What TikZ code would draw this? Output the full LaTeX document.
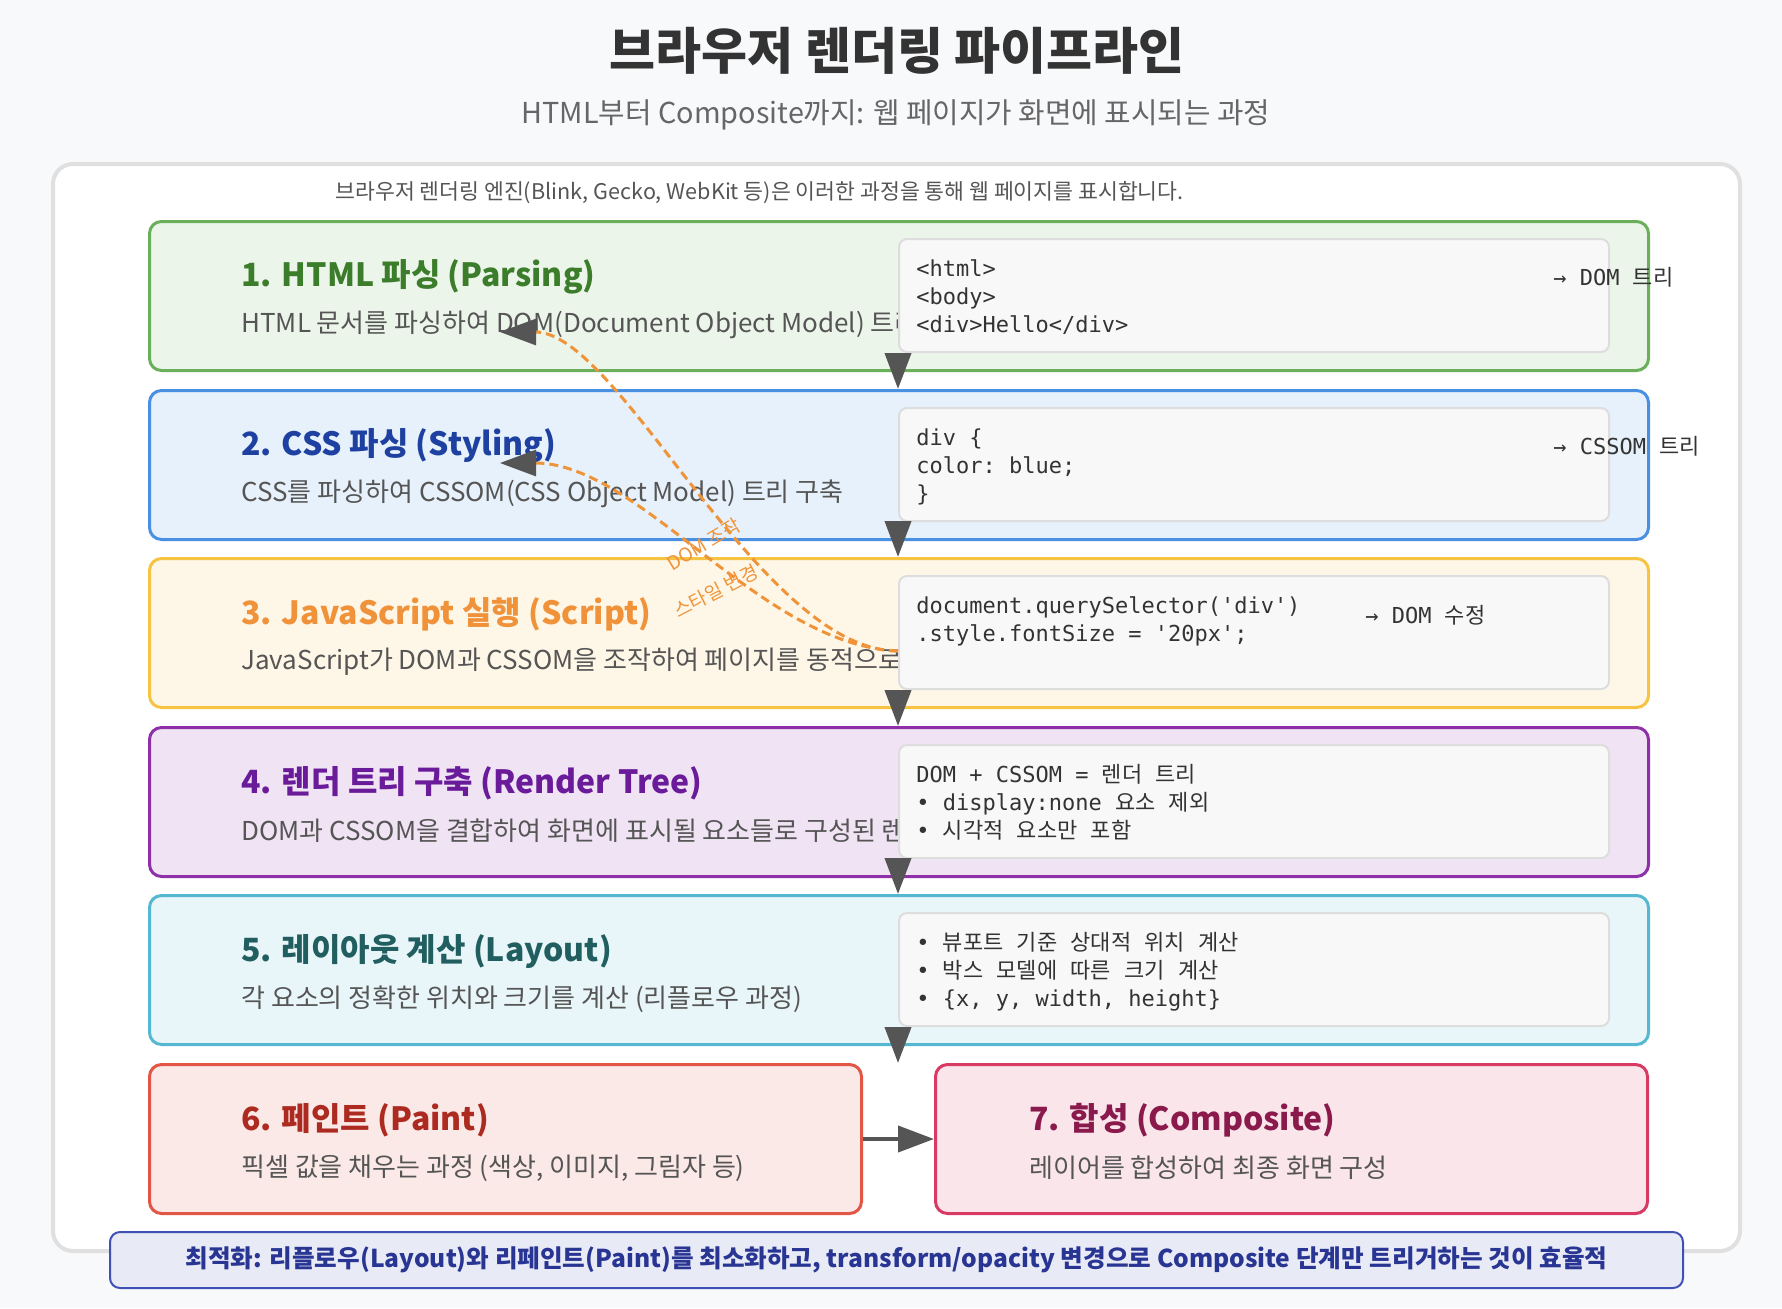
\documentclass[tikz,border=0pt]{standalone}
\usepackage{fontspec}
\setmainfont{Noto Sans CJK KR}
\setmonofont{DejaVu Sans Mono}
\newfontfamily\kocode{Noto Sans CJK KR}[WordSpace=2.7]
\usepackage{tikz}
\usetikzlibrary{arrows.meta, positioning, calc}
\usepackage{xcolor}
\definecolor{pagebg}{HTML}{F8F9FA}
\definecolor{panelline}{HTML}{E0E0E0}
\definecolor{textdark}{HTML}{333333}
\definecolor{textmid}{HTML}{555555}
\definecolor{textsub}{HTML}{666666}
\definecolor{htmlgreen}{HTML}{6AAF5A}
\definecolor{htmltitle}{HTML}{3B7D2A}
\definecolor{cssblue}{HTML}{4A90E2}
\definecolor{csstitle}{HTML}{1E40A0}
\definecolor{jsyellow}{HTML}{F6C343}
\definecolor{jstitle}{HTML}{F0923A}
\definecolor{treepurple}{HTML}{8E30A8}
\definecolor{treetitle}{HTML}{6A1B9A}
\definecolor{layoutcyan}{HTML}{56B8D0}
\definecolor{layouttitle}{HTML}{215E60}
\definecolor{paintred}{HTML}{E35545}
\definecolor{painttitle}{HTML}{AD2A20}
\definecolor{compopink}{HTML}{D83A64}
\definecolor{compotitle}{HTML}{8A1A4C}
\definecolor{codefill}{HTML}{F8F8F8}
\definecolor{codeline}{HTML}{DDDDDD}
\definecolor{arrowgray}{HTML}{555555}
\definecolor{dashorange}{HTML}{F0943A}
\definecolor{tipblue}{HTML}{3F51B5}
\definecolor{tipfill}{HTML}{E8EAF6}
\definecolor{tiptext}{HTML}{283593}
\newcommand{\ko}[1]{{\kocode #1}}
\tikzset{
    % Page frame
    panelbox/.style={rectangle, rounded corners=10pt, draw=panelline, line width=2pt, fill=white,
                minimum width=843.5pt, minimum height=543.5pt, inner sep=0pt},
    % Stage boxes
    stagebox/.style={rectangle, rounded corners=6pt, draw=#1, fill=#1!13, line width=1.5pt,
                minimum width=749.5pt, minimum height=74.5pt, anchor=north west, inner sep=0pt},
    halfbox/.style={stagebox=#1, minimum width=356pt},
    stagetitle/.style={anchor=west, inner sep=0pt, text=#1,
                font=\fontsize{16}{20}\selectfont\bfseries},
    stagedesc/.style={anchor=west, inner sep=0pt, text=textmid, font=\fontsize{13}{16}\selectfont},
    % Code snippets
    codebox/.style={rectangle, rounded corners=4pt, draw=codeline, fill=codefill, line width=1pt,
                minimum width=355pt, minimum height=56.5pt, anchor=north west, inner sep=0pt},
    codetext/.style={anchor=north west, inner sep=0pt, align=left, text=textdark,
                font=\ttfamily\fontsize{11}{14}\selectfont},
    codenote/.style={anchor=west, inner sep=0pt, text=textdark, font=\ttfamily\fontsize{11}{14}\selectfont},
    % Connectors
    flowarrow/.style={-{Triangle[length=18pt, width=13pt]}, line width=2pt, arrowgray},
    jsarrow/.style={-{Triangle[length=18pt, width=13pt, color=arrowgray]}, line width=1.5pt,
                dashorange, dash pattern=on 4.5pt off 2.5pt},
    jslabel/.style={inner sep=0pt, text=dashorange, font=\fontsize{9.5}{11}\selectfont},
    % Footer
    tipbox/.style={rectangle, rounded corners=5pt, draw=tipblue, fill=tipfill, line width=1pt,
                minimum width=786.5pt, minimum height=28pt, text=tiptext,
                font=\fontsize{12.3}{14}\selectfont\bfseries},
}
\begin{document}
\begin{tikzpicture}[x=0.5pt, y=-0.5pt]
\fill[pagebg] (0,0) rectangle (1782,1308);
\useasboundingbox (0,0) rectangle (1782,1308);

\node[font=\fontsize{25}{30}\selectfont\bfseries, text=textdark] (title) at (897,51) {브라우저 렌더링 파이프라인};
\node[font=\fontsize{14.4}{17}\selectfont, text=textsub] (subtitle) at (896,115) {HTML부터 Composite까지: 웹 페이지가 화면에 표시되는 과정};

\node[panelbox] (panel) at (896.5,707.5) {};
\node[anchor=west, inner sep=0pt, font=\fontsize{10.8}{12}\selectfont, text=textmid] (intro) at (335,193)
    {브라우저 렌더링 엔진(Blink, Gecko, WebKit 등)은 이러한 과정을 통해 웹 페이지를 표시합니다.};

% stages
\node[stagebox=htmlgreen]  (box1) at (148,220)  {};
\node[stagebox=cssblue]    (box2) at (148,389)  {};
\node[stagebox=jsyellow]   (box3) at (148,557)  {};
\node[stagebox=treepurple] (box4) at (148,726)  {};
\node[stagebox=layoutcyan] (box5) at (148,894)  {};
\node[halfbox=paintred]    (box6) at (148,1063) {};
\node[halfbox=compopink]   (box7) at (934,1063) {};

\node[stagetitle=htmltitle]   (title1) at (241,277)  {1. HTML 파싱 (Parsing)};
\node[stagetitle=csstitle]    (title2) at (241,446)  {2. CSS 파싱 (Styling)};
\node[stagetitle=jstitle]     (title3) at (241,614)  {3. JavaScript 실행 (Script)};
\node[stagetitle=treetitle]   (title4) at (241,783)  {4. 렌더 트리 구축 (Render Tree)};
\node[stagetitle=layouttitle] (title5) at (241,951)  {5. 레이아웃 계산 (Layout)};
\node[stagetitle=painttitle]  (title6) at (241,1120) {6. 페인트 (Paint)};
\node[stagetitle=compotitle]  (title7) at (1029,1120) {7. 합성 (Composite)};

\node[stagedesc] (desc1) at (241,325)  {HTML 문서를 파싱하여 DOM(Document Object Model) 트리};
\node[stagedesc] (desc2) at (241,494)  {CSS를 파싱하여 CSSOM(CSS Object Model) 트리 구축};
\node[stagedesc] (desc3) at (241,662)  {JavaScript가 DOM과 CSSOM을 조작하여 페이지를 동적으로};
\node[stagedesc] (desc4) at (241,831)  {DOM과 CSSOM을 결합하여 화면에 표시될 요소들로 구성된 렌};
\node[stagedesc] (desc5) at (241,999)  {각 요소의 정확한 위치와 크기를 계산 (리플로우 과정)};
\node[stagedesc] (desc6) at (241,1168) {픽셀 값을 채우는 과정 (색상, 이미지, 그림자 등)};
\node[stagedesc] (desc7) at (1029,1168) {레이어를 합성하여 최종 화면 구성};

% code snippets
\node[codebox] (code1) at (898,238) {};
\node[codebox] (code2) at (898,407) {};
\node[codebox] (code3) at (898,575) {};
\node[codebox] (code4) at (898,744) {};
\node[codebox] (code5) at (898,912) {};

\node[codetext] (snip1) at (916,256) {\strut<html>\\<body>\\<div>Hello</div>};
\node[codetext] (snip2) at (916,425) {\strut div \{\\color: blue;\\\}};
\node[codetext] (snip3) at (916,593) {\strut document.querySelector('div')\\.style.fontSize = '20px';};
\node[codetext] (snip4) at (916,762) {\strut DOM + CSSOM = \ko{렌더 트리}\\• display:none \ko{요소 제외}\\• \ko{시각적 요소만 포함}};
\node[codetext] (snip5) at (916,930) {\strut • \ko{뷰포트 기준 상대적 위치 계산}\\• \ko{박스 모델에 따른 크기 계산}\\• \{x, y, width, height\}};

\node[codenote] (note1) at (1553,277) {→ DOM \ko{트리}};
\node[codenote] (note2) at (1553,446) {→ CSSOM \ko{트리}};
\node[codenote] (note3) at (1365,615) {→ DOM \ko{수정}};

% pipeline flow
\draw[flowarrow] (code1.south west) -- (code1.south west |- box2.north);
\draw[flowarrow] (code2.south west) -- (code2.south west |- box3.north);
\draw[flowarrow] (code3.south west) -- (code3.south west |- box4.north);
\draw[flowarrow] (code4.south west) -- (code4.south west |- box5.north);
\draw[flowarrow] (code5.south west) -- (code5.south west |- box6.north);
\draw[flowarrow] (box6.east) -- (box7.west);

% script feedback
\coordinate (jsout)  at (898,651);
\coordinate (domhit) at (500,332);
\coordinate (csshit) at (500,463);
\draw[jsarrow] (jsout) .. controls (760,651) and (620,332) .. (domhit);
\draw[jsarrow] (jsout) .. controls (760,645) and (640,463) .. (csshit);
\node[jslabel, rotate=31] (domlbl)   at (704,544) {DOM 조작};
\node[jslabel, rotate=27] (stylelbl) at (716,591) {스타일 변경};

\node[tipbox] (tip) at (896.5,1260) {최적화: 리플로우(Layout)와 리페인트(Paint)를 최소화하고, transform/opacity 변경으로 Composite 단계만 트리거하는 것이 효율적};
\end{tikzpicture}
\end{document}
